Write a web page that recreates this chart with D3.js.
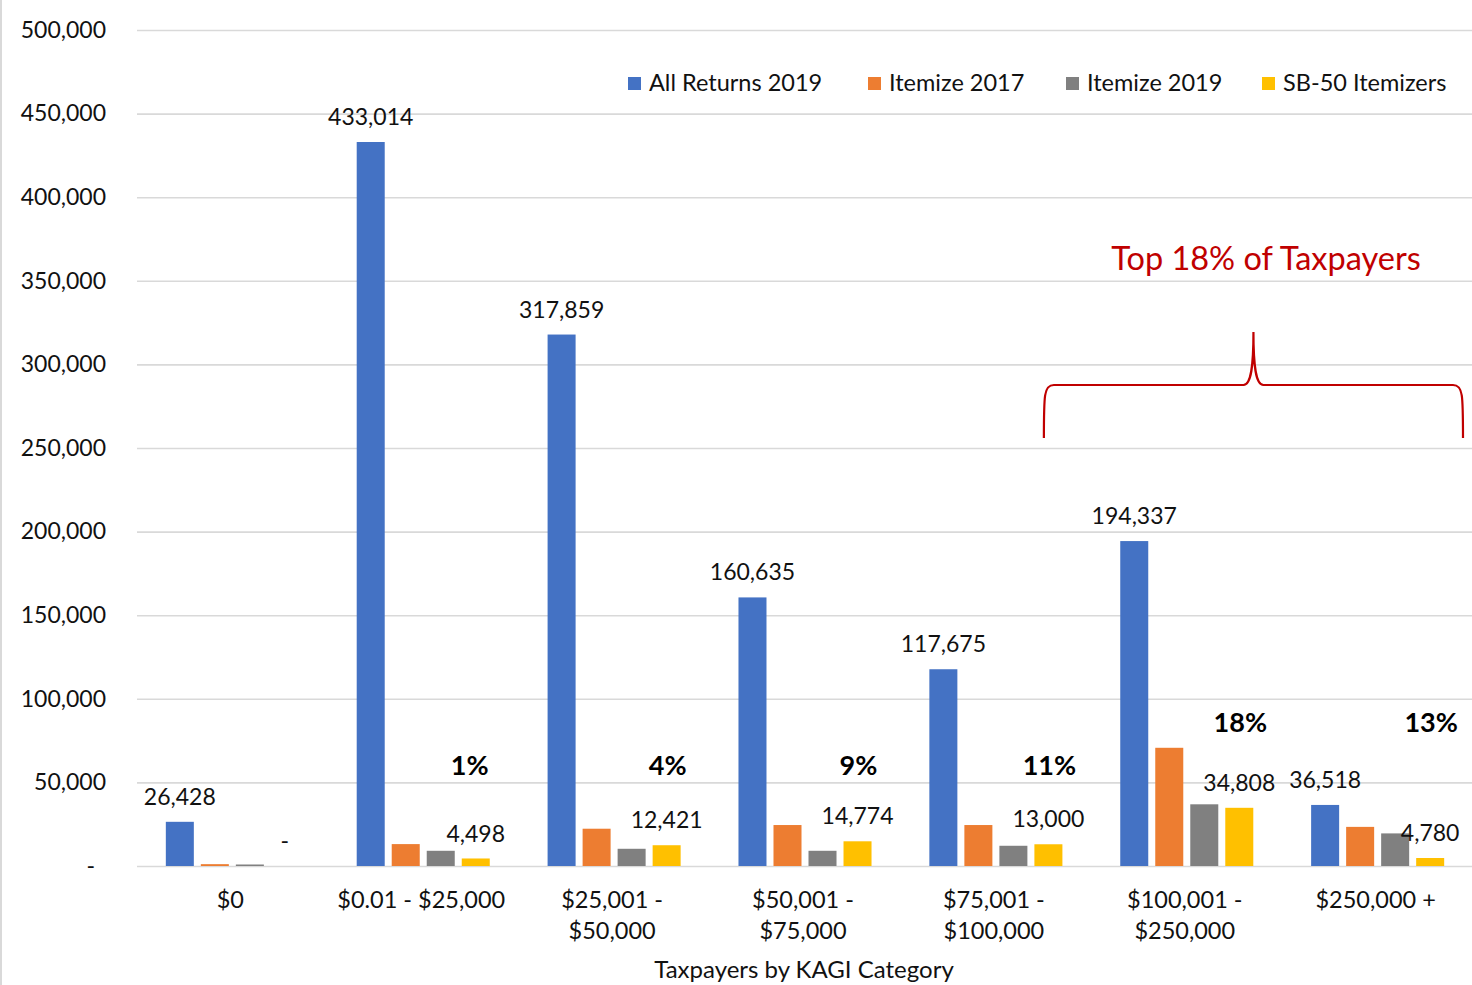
<!DOCTYPE html>
<html>
<head>
<meta charset="utf-8">
<script src="https://cdn.jsdelivr.net/npm/d3@7"></script>
<style>
  html, body { margin: 0; padding: 0; background: #fff; }
  svg { display: block; font-family: Lato, "Open Sans", sans-serif; }
</style>
</head>
<body>
<svg id="chart" width="1472" height="985"></svg>
<script>
// Taxpayer counts by KAGI bracket
const categories = ["$0", "$0.01 - $25,000", "$25,001 - $50,000", "$50,001 - $75,000",
                    "$75,001 - $100,000", "$100,001 - $250,000", "$250,000 +"];
const categoryLines = [["$0"], ["$0.01 - $25,000"], ["$25,001 -", "$50,000"], ["$50,001 -", "$75,000"],
                       ["$75,001 -", "$100,000"], ["$100,001 -", "$250,000"], ["$250,000 +"]];
const seriesNames = ["All Returns 2019", "Itemize 2017", "Itemize 2019", "SB-50 Itemizers"];
const allReturns2019 = [26428, 433014, 317859, 160635, 117675, 194337, 36518];
const itemize2017 = [1100, 13100, 22300, 24500, 24500, 70700, 23400];
const itemize2019 = [900, 9100, 10300, 9100, 12100, 36900, 19500];
const sb50Itemizers = [0, 4498, 12421, 14774, 13000, 34808, 4780];
const yTicks = [0, 50000, 100000, 150000, 200000, 250000, 300000, 350000, 400000, 450000, 500000];
const xTitle = "Taxpayers by KAGI Category";
const calloutText = "Top 18% of Taxpayers";

const colors = ["#4472C4", "#ED7D31", "#808080", "#FFC000"];
const seriesValues = [allReturns2019, itemize2017, itemize2019, sb50Itemizers];

const svg = d3.select("#chart");
const W = 1472, H = 985;
const plot = { left: 137, right: 1473, top: 30, bottom: 866 };

const x0 = d3.scaleBand().domain(categories).range([plot.left, plot.right])
  .paddingInner(0.303).paddingOuter(0.151);
const x1 = d3.scaleBand().domain(seriesNames).range([0, x0.bandwidth()]).paddingInner(0.2);
const y = d3.scaleLinear().domain([0, 500000]).range([plot.bottom, plot.top]);

const numFmt = v => v === 0 ? "-" : d3.format(",")(v);
const pctFmt = d3.format(".0%");
const textColor = "#111";

// chart-area left border
svg.append("line").attr("x1", 1).attr("x2", 1).attr("y1", 0).attr("y2", H)
  .attr("stroke", "#d9d9d9").attr("stroke-width", 2);

// gridlines + y tick labels
const yAxis = d3.axisLeft(y).tickValues(yTicks).tickSize(-(W - plot.left)).tickPadding(31)
  .tickFormat(numFmt);
const gy = svg.append("g").attr("transform", `translate(${plot.left},0)`).call(yAxis);
gy.select(".domain").remove();
gy.selectAll(".tick line").attr("stroke", "#d9d9d9").attr("stroke-width", 1.6);
gy.selectAll(".tick text").attr("font-size", 23).attr("fill", textColor)
  .attr("font-family", "Lato, sans-serif")
  .attr("dx", d => d === 0 ? -11 : 0);

// bars
const groups = svg.append("g").selectAll("g").data(categories).join("g")
  .attr("transform", d => `translate(${x0(d)},0)`);

groups.selectAll("rect")
  .data((c, i) => seriesNames.map((s, k) => ({ s, v: seriesValues[k][i], k })))
  .join("rect")
  .attr("x", d => x1(d.s))
  .attr("width", x1.bandwidth())
  .attr("y", d => y(d.v))
  .attr("height", d => y(0) - y(d.v))
  .attr("fill", d => colors[d.k]);

// value labels on first and last series
groups.selectAll("text.val")
  .data((c, i) => [0, 3].map(k => ({ s: seriesNames[k], v: seriesValues[k][i] })))
  .join("text").attr("class", "val")
  .attr("x", d => x1(d.s) + x1.bandwidth() / 2)
  .attr("y", d => y(d.v) - 25)
  .attr("dy", "0.35em")
  .attr("text-anchor", "middle")
  .attr("font-size", 23).attr("fill", textColor)
  .text(d => numFmt(d.v));

// share of all returns that are SB-50 itemizers
groups.each(function (c) {
  const i = categories.indexOf(c);
  if (sb50Itemizers[i] === 0) return;
  d3.select(this).append("text")
    .attr("x", x1(seriesNames[3]) + x1.bandwidth() / 2 + (i === 1 ? -6 : 1))
    .attr("y", i >= 5 ? y(86000) : y(60000))
    .attr("dy", "0.35em")
    .attr("text-anchor", "middle")
    .attr("font-size", 27).attr("font-weight", "bold").attr("fill", "#000")
    .text(pctFmt(sb50Itemizers[i] / allReturns2019[i]));
});

// category labels
const catG = svg.append("g");
categories.forEach((c, i) => {
  const cx = x0(c) + x0.bandwidth() / 2 - 2;
  const t = catG.append("text")
    .attr("text-anchor", "middle")
    .attr("font-size", 23.5).attr("fill", textColor);
  categoryLines[i].forEach((ln, j) => {
    t.append("tspan").attr("x", cx)
      .attr("y", 900 + j * 31).attr("dy", "0.35em").text(ln);
  });
});

// axis title
svg.append("text").attr("x", (plot.left + plot.right) / 2 - 1).attr("y", 970).attr("dy", "0.35em")
  .attr("text-anchor", "middle").attr("font-size", 24).attr("fill", textColor).text(xTitle);

// legend
const legendX = [628, 868, 1066, 1262];
const leg = svg.append("g");
seriesNames.forEach((s, k) => {
  leg.append("rect").attr("x", legendX[k]).attr("y", 77).attr("width", 13).attr("height", 13)
    .attr("fill", colors[k]);
  leg.append("text").attr("x", legendX[k] + 21).attr("y", 83).attr("dy", "0.35em")
    .attr("font-size", 23.5).attr("fill", textColor).text(s);
});

// brace over the top brackets
const bx0 = x0(categories[5]) - 0.4 * x0.step(), bx1 = plot.right - 10;
const bMid = (bx0 + bx1) / 2, bBar = 385, bFoot = 438, bTip = 332;
const brace = d3.path();
brace.moveTo(bx0, bFoot);
brace.bezierCurveTo(bx0, bBar + 10, bx0, bBar, bx0 + 10, bBar);
brace.lineTo(bMid - 10, bBar);
brace.bezierCurveTo(bMid - 2, bBar, bMid, bBar - 20, bMid, bTip);
brace.bezierCurveTo(bMid, bBar - 20, bMid + 2, bBar, bMid + 10, bBar);
brace.lineTo(bx1 - 10, bBar);
brace.bezierCurveTo(bx1, bBar, bx1, bBar + 10, bx1, bFoot);
svg.append("path").attr("d", brace.toString()).attr("fill", "none")
  .attr("stroke", "#C00000").attr("stroke-width", 2.2);

svg.append("text").attr("x", 1266).attr("y", 259).attr("dy", "0.35em")
  .attr("text-anchor", "middle").attr("font-size", 32.5).attr("fill", "#C00000").text(calloutText);
</script>
</body>
</html>
